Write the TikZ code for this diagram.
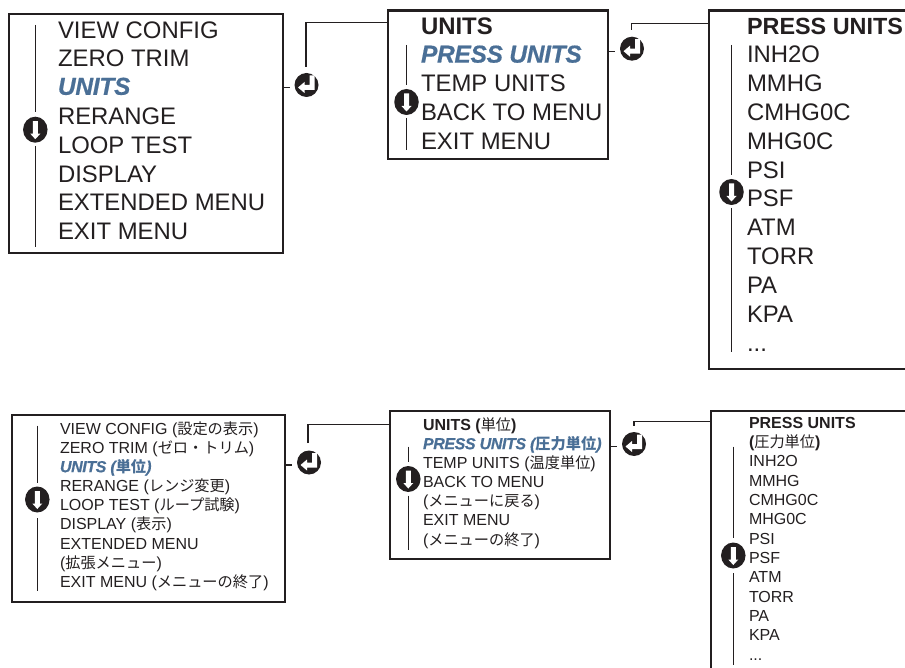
\documentclass[tikz,border=0pt]{standalone}
\usepackage{fontspec}
\setmainfont{Liberation Sans}
\newfontfamily\jpf[Scale=0.95,AutoFakeSlant=0.2]{Noto Sans CJK JP}
\newfontfamily\self[BoldItalicFont={Liberation Sans Bold Italic},BoldItalicFeatures={FakeBold=0.6}]{Liberation Sans}
\newcommand{\jp}[1]{{\jpf #1}}
\definecolor{ink}{HTML}{231F20}
\definecolor{sel}{HTML}{4A6F96}
\newcommand{\bigsz}{\fontsize{23.9}{28}\selectfont}
\newcommand{\smallsz}{\fontsize{16}{19}\selectfont}
\usetikzlibrary{shapes.geometric}
\tikzset{
  menubox/.style={draw=ink,line width=2.3pt,inner sep=0pt,outer sep=0pt},
  openbox/.style={inner sep=0pt,outer sep=0pt},
  boxedge/.style={draw=ink,line width=2.3pt},
  conn/.style={draw=ink,line width=1.2pt},
  rail/.style={draw=ink,line width=1.5pt},
  bigt/.style={anchor=base west,inner sep=0pt,outer sep=0pt,text=ink,font=\bigsz,yshift=-0.9pt},
  smallt/.style={anchor=base west,inner sep=0pt,outer sep=0pt,text=ink,font=\smallsz},
  selbig/.style={text=sel,yshift=0.9pt,font=\fontsize{24.5}{28}\selectfont\selfamily\addfontfeature{LetterSpace=-1.2}},
  selsmall/.style={text=sel,font=\smallsz\selfamilysmall},
  icon/.style={circle,fill=ink,minimum size=24pt,inner sep=0pt,outer sep=0pt},
  downicon/.style={ellipse,fill=ink,minimum width=24.5pt,minimum height=26pt,inner sep=0pt,outer sep=0pt}
}
\newcommand{\selfamily}{\self\bfseries\itshape}
\newcommand{\selfamilysmall}{\self\bfseries\itshape\addfontfeature{LetterSpace=-2.5}}
\newcommand{\entericon}[3]{%
  \node[icon] (#1) at (#2,#3) {};
  \fill[white] ([xshift=3pt,yshift=9.5pt]#1.center) -- ++(5,0) -- ++(0,14.5) -- ++(-10,0)
     -- ++(0,3) -- ++(-6.5,-5.5) -- ++(6.5,-5.5) -- ++(0,3) -- ++(5,0) -- cycle;
}
\newcommand{\downico}[3]{%
  \node[downicon] (#1) at (#2,#3) {};
  \fill[white] ([xshift=-2.5pt,yshift=8.5pt]#1.center) -- ++(5,0) -- ++(0,12.5) -- ++(2.5,0)
     -- ++(-5,5.5) -- ++(-5,-5.5) -- ++(2.5,0) -- cycle;
}
\begin{document}
\begin{tikzpicture}[x=1pt,y=-1pt]
\useasboundingbox (0,0) rectangle (905,668);
% boxes
\node[menubox,minimum width=273.4pt,minimum height=239pt] (b1) at (146,133.8) {};
\node[menubox,minimum width=220pt,minimum height=148.6pt] (b2) at (498.2,84.7) {};
\node[openbox,minimum width=196pt,minimum height=358.6pt] (b3) at (807,189.7) {};
\draw[boxedge] (b3.north east) -- (b3.north west) -- (b3.south west) -- (b3.south east);
\node[menubox,minimum width=273pt,minimum height=187pt] (b4) at (148.2,508.5) {};
\node[menubox,minimum width=220pt,minimum height=148pt] (b5) at (500,485) {};
\node[openbox,minimum width=194pt,minimum height=258pt] (b6) at (808,540) {};
\draw[boxedge] (b6.north east) -- (b6.north west) -- (b6.south west);
% box 1 text
\node[bigt] (a1) at (58,37.3) {VIEW CONFIG};
\node[bigt] (a2) at (58,66) {ZERO TRIM};
\node[bigt,selbig] (a3) at (58,94.8) {UNITS};
\node[bigt] (a4) at (58,123.6) {RERANGE};
\node[bigt] (a5) at (58,152.6) {LOOP TEST};
\node[bigt] (a6) at (58,181.3) {DISPLAY};
\node[bigt] (a7) at (58,210) {EXTENDED MENU};
\node[bigt] (a8) at (58,238.7) {EXIT MENU};
% box 2 text
\node[bigt,font=\bigsz\bfseries] (c1) at (421,33.3) {UNITS};
\node[bigt,selbig] (c2) at (421,62.6) {PRESS UNITS};
\node[bigt] (c3) at (421,91) {TEMP UNITS};
\node[bigt] (c4) at (421,120) {BACK TO MENU};
\node[bigt] (c5) at (421,148.8) {EXIT MENU};
% box 3 text
\node[bigt,font=\fontsize{23.4}{28}\selectfont\bfseries] (d1) at (747,33.3) {PRESS UNITS};
\node[bigt] (d2) at (747,62) {INH2O};
\node[bigt] (d3) at (747,90.8) {MMHG};
\node[bigt] (d4) at (747,119.6) {CMHG0C};
\node[bigt] (d5) at (747,148.4) {MHG0C};
\node[bigt] (d6) at (747,177.2) {PSI};
\node[bigt] (d7) at (747,206) {PSF};
\node[bigt] (d8) at (747,234.8) {ATM};
\node[bigt] (d9) at (747,263.6) {TORR};
\node[bigt] (d10) at (747,292.4) {PA};
\node[bigt] (d11) at (747,321.2) {KPA};
\node[bigt] (d12) at (747,350.5) {...};
% box 4 text
\node[smallt] (e1) at (60,434) {VIEW CONFIG (\jp{設定の表示})};
\node[smallt] (e2) at (60,453) {ZERO TRIM (\jp{ゼロ・トリム})};
\node[smallt,selsmall] (e3) at (60,472.2) {UNITS (\jp{単位})};
\node[smallt] (e4) at (60,491.5) {RERANGE (\jp{レンジ変更})};
\node[smallt] (e5) at (60,510.6) {LOOP TEST (\jp{ループ試験})};
\node[smallt] (e6) at (60,529.8) {DISPLAY (\jp{表示})};
\node[smallt] (e7) at (60,549) {EXTENDED MENU};
\node[smallt] (e8) at (60,568.2) {(\jp{拡張メニュー})};
\node[smallt] (e9) at (60,587.3) {EXIT MENU (\jp{メニューの終了})};
% box 5 text
\node[smallt] (f1) at (423,430) {\textbf{UNITS (}\jp{単位}\textbf{)}};
\node[smallt,selsmall] (f2) at (423,449.2) {PRESS UNITS (\jp{圧力単位})};
\node[smallt] (f3) at (423,468.3) {TEMP UNITS (\jp{温度単位})};
\node[smallt] (f4) at (423,487.5) {BACK TO MENU};
\node[smallt] (f5) at (423,506.7) {(\jp{メニューに戻る})};
\node[smallt] (f6) at (423,525.8) {EXIT MENU};
\node[smallt] (f7) at (423,545) {(\jp{メニューの終了})};
% box 6 text
\node[smallt,font=\smallsz\bfseries] (g1) at (749,428.3) {PRESS UNITS};
\node[smallt] (g2) at (749,447.6) {\textbf{(}\jp{圧力単位}\textbf{)}};
\node[smallt] (g3) at (749,466.9) {INH2O};
\node[smallt] (g4) at (749,486.2) {MMHG};
\node[smallt] (g5) at (749,505.5) {CMHG0C};
\node[smallt] (g6) at (749,524.8) {MHG0C};
\node[smallt] (g7) at (749,544.1) {PSI};
\node[smallt] (g8) at (749,563.4) {PSF};
\node[smallt] (g9) at (749,582.7) {ATM};
\node[smallt] (g10) at (749,602) {TORR};
\node[smallt] (g11) at (749,621.3) {PA};
\node[smallt] (g12) at (749,640.6) {KPA};
\node[smallt] (g13) at (749,660) {...};
% scroll icons and rails
\downico{s1}{35.3}{129.7}
\downico{s2}{406.5}{102}
\downico{s3}{731.5}{192}
\downico{s4}{37.3}{499.5}
\downico{s5}{408.3}{479}
\downico{s6}{733.3}{555.5}
\coordinate (r1a) at (35.3,25); \coordinate (r1b) at (35.3,111.7);
\coordinate (r1c) at (35.3,146); \coordinate (r1d) at (35.3,246.7);
\draw[rail] (r1a) -- (r1b); \draw[rail] (r1c) -- (r1d);
\coordinate (r2a) at (406.5,45); \coordinate (r2b) at (406.5,85);
\coordinate (r2c) at (406.5,118); \coordinate (r2d) at (406.5,150);
\draw[rail] (r2a) -- (r2b); \draw[rail] (r2c) -- (r2d);
\coordinate (r3a) at (731.5,45); \coordinate (r3b) at (731.5,175);
\coordinate (r3c) at (731.5,208); \coordinate (r3d) at (731.5,351.7);
\draw[rail] (r3a) -- (r3b); \draw[rail] (r3c) -- (r3d);
\coordinate (r4a) at (37.3,425.7); \coordinate (r4b) at (37.3,483);
\coordinate (r4c) at (37.3,518.3); \coordinate (r4d) at (37.3,591);
\draw[rail] (r4a) -- (r4b); \draw[rail] (r4c) -- (r4d);
\coordinate (r5a) at (408.3,446.7); \coordinate (r5b) at (408.3,462.3);
\coordinate (r5c) at (408.3,495.7); \coordinate (r5d) at (408.3,550);
\draw[rail] (r5a) -- (r5b); \draw[rail] (r5c) -- (r5d);
\coordinate (r6a) at (733.3,446.7); \coordinate (r6b) at (733.3,538.3);
\coordinate (r6c) at (733.3,573.3); \coordinate (r6d) at (733.3,665);
\draw[rail] (r6a) -- (r6b); \draw[rail] (r6c) -- (r6d);
% enter icons
\entericon{k1}{306.5}{85}
\entericon{k2}{632}{48.7}
\entericon{k3}{309}{462.5}
\entericon{k4}{634}{444}
% connectors
\coordinate (t1) at (289.5,87.7); \coordinate (u1) at (306,66.7); \coordinate (v1) at (306,22.7);
\draw[conn] (b1.east |- t1) -- (t1);
\draw[conn] (u1) -- (v1) -- (b2.west |- v1);
\coordinate (t2) at (615,51.7); \coordinate (u2) at (631.7,30); \coordinate (v2) at (631.7,23.3);
\draw[conn] (b2.east |- t2) -- (t2);
\draw[conn] (u2) -- (v2) -- (b3.west |- v2);
\coordinate (t3) at (291.7,465); \coordinate (u3) at (308,443); \coordinate (v3) at (308,424.3);
\draw[conn] (b4.east |- t3) -- (t3);
\draw[conn] (u3) -- (v3) -- (b5.west |- v3);
\coordinate (t4) at (616.7,446.7); \coordinate (u4) at (634,425.7); \coordinate (v4) at (634,421.5);
\draw[conn] (b5.east |- t4) -- (t4);
\draw[conn] (u4) -- (v4) -- (b6.west |- v4);
\end{tikzpicture}
\end{document}
